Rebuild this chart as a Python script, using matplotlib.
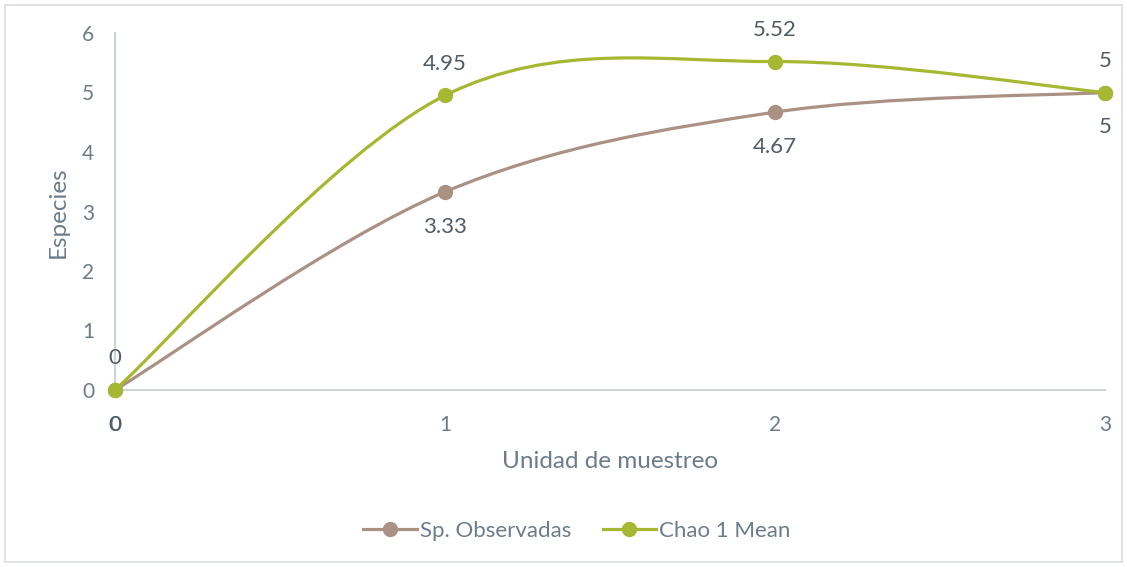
import matplotlib
matplotlib.use("Agg")
import matplotlib.pyplot as plt
from matplotlib.path import Path
from matplotlib.patches import PathPatch, Rectangle
import numpy as np

x_vals = [0, 1, 2, 3]
sp_obs = [0, 3.33, 4.67, 5]
chao1 = [0, 4.95, 5.52, 5]
series_names = ["Sp. Observadas", "Chao 1 Mean"]
sp_labels = ["0", "3.33", "4.67", "5"]
chao_labels = ["0", "4.95", "5.52", "5"]

c_sp = "#AA9184"
c_chao = "#A6B732"
c_tick = "#6B7C8C"
c_lab = "#4F5B66"
c_axis = "#CDD3D9"

plt.rcParams['font.family'] = ['Lato', 'DejaVu Sans']

fig = plt.figure(figsize=(11.27, 5.67), dpi=100)
ax = fig.add_axes([115/1127, 177/567, 990/1127, 357/567])

def smooth_path(xs, ys):
    pts = np.column_stack([xs, ys]).astype(float)
    n = len(pts)
    verts = [pts[0]]
    codes = [Path.MOVETO]
    for i in range(n - 1):
        p0 = pts[i - 1] if i > 0 else pts[i]
        p1 = pts[i]
        p2 = pts[i + 1]
        p3 = pts[i + 2] if i + 2 < n else pts[i + 1]
        c1 = p1 + (p2 - p0) / 6
        c2 = p2 - (p3 - p1) / 6
        verts += [c1, c2, p2]
        codes += [Path.CURVE4] * 3
    return Path(verts, codes)

for ys, col, name in [(sp_obs, c_sp, series_names[0]), (chao1, c_chao, series_names[1])]:
    patch = PathPatch(smooth_path(x_vals, ys), facecolor="none", edgecolor=col,
                      lw=2.3, zorder=3, capstyle="round")
    ax.add_patch(patch)
    ax.plot(x_vals, ys, linestyle="none", marker="o", ms=10, color=col, zorder=4,
            clip_on=False)
    ax.plot([], [], color=col, lw=2.3, marker="o", ms=10, label=name)

for xv, yv, t in zip(x_vals, sp_obs, sp_labels):
    ax.annotate(t, (xv, yv), xytext=(0, -25), textcoords="offset points",
                ha="center", va="center", fontsize=16, color=c_lab, zorder=5)
for xv, yv, t in zip(x_vals, chao1, chao_labels):
    ax.annotate(t, (xv, yv), xytext=(0, 23), textcoords="offset points",
                ha="center", va="center", fontsize=16, color=c_lab, zorder=5)

ax.set_xlim(0, 3)
ax.set_ylim(0, 6)
ax.set_xticks([0, 1, 2, 3])
ax.set_yticks(range(0, 7))
ax.tick_params(axis="both", length=0, labelsize=15, colors=c_tick)
ax.tick_params(axis="y", pad=15)
ax.tick_params(axis="x", pad=18)
for s in ["top", "right"]:
    ax.spines[s].set_visible(False)
for s in ["left", "bottom"]:
    ax.spines[s].set_color(c_axis)
    ax.spines[s].set_linewidth(1.5)

fig.text(610/1127, 1 - 462/567, "Unidad de muestreo", ha="center", va="center",
         fontsize=17.5, color=c_tick)
fig.text(58/1127, 1 - 212/567, "Especies", ha="center", va="center",
         rotation=90, fontsize=17.5, color=c_tick)

leg = fig.legend(loc="center", bbox_to_anchor=(577/1127, 1 - 531/567), ncol=2,
                 frameon=False, fontsize=16, labelcolor=c_tick, handlelength=2.4,
                 handletextpad=0.15, columnspacing=1.4)

fig.patches.append(Rectangle((5/1127, 5/567), 1117/1127, 557/567,
                             transform=fig.transFigure, fill=False,
                             edgecolor="#D9DDE2", lw=1.2))

fig.savefig("out.png", dpi=100)
